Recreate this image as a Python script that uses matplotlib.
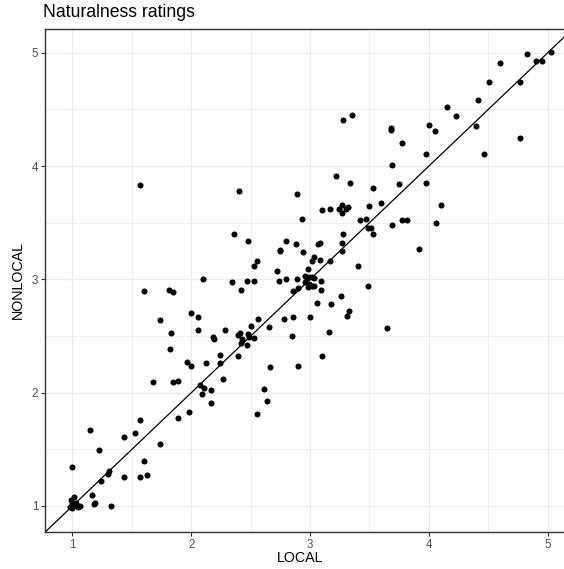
import matplotlib
matplotlib.use("Agg")
import matplotlib.pyplot as plt
from matplotlib.ticker import MultipleLocator

plt.rcParams['font.family'] = ['Liberation Sans', 'DejaVu Sans']

local = [
    1.68, 1.85, 1.89, 2.07, 2.09, 2.11, 1.98, 1.89, 1.57, 1.15,
    1.53, 1.43, 1.74, 1.22, 1.60, 1.00, 1.31, 1.30, 1.24, 1.43,
    1.57, 1.63, 1.16, 1.18, 1.19, 1.32, 1.01, 0.99, 1.00, 1.02,
    1.05, 0.98, 1.00, 1.06, 1.03, 1.00,
    2.75, 2.55, 2.53, 2.72, 2.80, 2.74, 2.89, 2.10, 2.34, 2.47,
    2.53, 2.42, 1.60, 1.81, 1.85, 2.86, 2.90, 2.00, 2.06, 1.74,
    2.56, 2.78, 2.86, 2.50, 2.65, 2.06, 2.28, 1.83, 2.18, 2.19,
    2.41, 2.39, 2.43, 2.42, 2.48, 2.49, 2.53, 2.47, 2.85, 1.82,
    2.39, 2.24, 1.96, 2.00, 2.12, 2.24, 2.66, 2.90, 2.27, 2.17,
    2.17, 2.61, 2.64, 2.55,
    3.22, 3.34, 3.53, 2.40, 2.89, 3.10, 3.17, 3.24, 3.27, 3.32,
    3.27, 3.30, 3.50, 3.60, 2.93, 3.42, 3.47, 3.49, 3.51, 3.53,
    2.36, 2.48, 2.80, 2.88, 3.08, 3.07, 3.28, 3.27, 2.75, 2.94,
    3.27, 3.03, 3.02, 3.08, 3.17, 3.40, 2.98, 2.96, 2.97, 2.99,
    3.02, 3.03, 2.96, 2.99, 3.02, 2.98, 3.09, 3.09, 3.03, 3.49,
    3.26, 3.06, 3.18, 3.33, 3.31, 3.00, 3.65, 3.16, 3.10,
    4.51, 4.41, 4.15, 4.23, 3.28, 3.35, 4.40, 4.00, 4.05, 3.68,
    3.68, 3.77, 4.46, 3.98, 3.69, 3.75, 3.98, 4.10, 3.69, 3.77,
    3.82, 4.06, 3.92,
    4.83, 5.03, 4.90, 4.95, 4.60, 4.77, 4.77, 1.57,
]

nonlocal_ = [
    2.09, 2.09, 2.10, 2.07, 1.99, 2.04, 1.83, 1.78, 1.76, 1.67,
    1.64, 1.61, 1.55, 1.49, 1.40, 1.34, 1.31, 1.28, 1.22, 1.26,
    1.26, 1.27, 1.10, 1.02, 1.03, 1.00, 1.08, 1.05, 1.02, 1.01,
    0.99, 0.99, 0.98, 1.00, 1.03, 1.00,
    3.25, 3.16, 3.12, 3.07, 3.00, 2.99, 3.00, 3.00, 2.98, 2.99,
    2.99, 2.91, 2.90, 2.91, 2.89, 2.90, 2.92, 2.70, 2.67, 2.64,
    2.65, 2.65, 2.67, 2.59, 2.58, 2.55, 2.55, 2.53, 2.49, 2.47,
    2.53, 2.51, 2.47, 2.44, 2.52, 2.49, 2.48, 2.42, 2.50, 2.39,
    2.32, 2.33, 2.27, 2.24, 2.26, 2.26, 2.23, 2.24, 2.12, 2.02,
    1.91, 2.03, 1.93, 1.81,
    3.91, 3.85, 3.81, 3.78, 3.75, 3.61, 3.62, 3.62, 3.66, 3.64,
    3.59, 3.62, 3.65, 3.67, 3.53, 3.52, 3.53, 3.45, 3.45, 3.40,
    3.40, 3.34, 3.34, 3.31, 3.32, 3.31, 3.40, 3.32, 3.26, 3.24,
    3.25, 3.20, 3.16, 3.17, 3.16, 3.12, 3.09, 3.03, 3.01, 3.02,
    3.02, 3.01, 2.98, 2.96, 2.94, 2.93, 2.99, 2.91, 2.94, 2.94,
    2.85, 2.79, 2.78, 2.72, 2.68, 2.67, 2.57, 2.54, 2.32,
    4.74, 4.58, 4.52, 4.44, 4.41, 4.45, 4.35, 4.36, 4.31, 4.34,
    4.32, 4.20, 4.11, 4.11, 4.01, 3.84, 3.85, 3.66, 3.48, 3.52,
    3.52, 3.50, 3.27,
    4.99, 5.01, 4.93, 4.93, 4.91, 4.74, 4.25, 3.83,
]

title = "Naturalness ratings"
xlabel = "LOCAL"
ylabel = "NONLOCAL"
ticks = [1, 2, 3, 4, 5]

W, H = 564, 569
fig = plt.figure(figsize=(W / 100, H / 100), dpi=100)
left, right, top, bottom = 45, 565, 29, 532
ax = fig.add_axes([left / W, 1 - bottom / H, (right - left) / W, (bottom - top) / H])

ax.set_xlim(0.7685, 5.146)
ax.set_ylim(0.7705, 5.21)

ax.xaxis.set_major_locator(MultipleLocator(1))
ax.yaxis.set_major_locator(MultipleLocator(1))
ax.xaxis.set_minor_locator(MultipleLocator(0.5))
ax.yaxis.set_minor_locator(MultipleLocator(0.5))
ax.grid(which='major', color='#EBEBEB', linewidth=0.9)
ax.grid(which='minor', color='#EBEBEB', linewidth=0.6)
ax.set_axisbelow(True)
ax.tick_params(which='minor', length=0)
ax.tick_params(which='major', length=3, width=0.8, color='#333333',
               labelcolor='#4D4D4D', labelsize=8.3, pad=2)
for s in ax.spines.values():
    s.set_color('#333333')
    s.set_linewidth(1.0)

ax.axline((1, 1), slope=1, color='black', linewidth=0.9, zorder=2)
ax.scatter(local, nonlocal_, s=19, color='black', linewidths=0, zorder=3)

ax.set_xticks(ticks)
ax.set_yticks(ticks)
ax.set_xticklabels([str(t) for t in ticks])
ax.set_yticklabels([str(t) for t in ticks])

fig.text(300 / W, 1 - 558 / H, xlabel, ha='center', va='center', fontsize=10.3)
fig.text(18 / W, 1 - 280 / H, ylabel, ha='center', va='center', rotation=90, fontsize=10.3)
fig.text(43 / W, 1 - 17 / H, title, ha='left', va='baseline', fontsize=12.7)

fig.savefig("out.png", dpi=100)
